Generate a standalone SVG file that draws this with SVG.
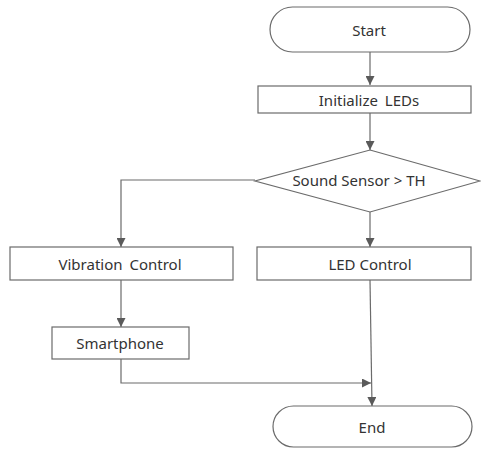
<svg xmlns="http://www.w3.org/2000/svg" width="481" height="449" viewBox="0 0 481 449">
  <style>
    .shape { fill: #ffffff; stroke: #6b6b6b; stroke-width: 1.2; }
    .label { font-family: "Noto Sans", "Open Sans", sans-serif; font-size: 15px; fill: #333333; text-anchor: middle; dominant-baseline: central; }
    .wide { word-spacing: 3px; }
    .wire { fill: none; stroke: #6b6b6b; stroke-width: 1.2; }
  </style>
  <defs>
    <marker id="arrow" viewBox="0 0 10 10" refX="10" refY="5" markerWidth="9" markerHeight="9" markerUnits="userSpaceOnUse" orient="auto">
      <path d="M0,0 L10,5 L0,10 Z" fill="#5a5a5a"/>
    </marker>
  </defs>
  <rect width="481" height="449" fill="#ffffff"/>

  <g id="connectors">
    <path class="wire" d="M370,52 V85" marker-end="url(#arrow)"/>
    <path class="wire" d="M370,113 V150" marker-end="url(#arrow)"/>
    <path class="wire" d="M370,212 V247" marker-end="url(#arrow)"/>
    <path class="wire" d="M255,180 H121 V247" marker-end="url(#arrow)"/>
    <path class="wire" d="M121,280 V327" marker-end="url(#arrow)"/>
    <path class="wire" d="M121,359 V383 H371" marker-end="url(#arrow)"/>
    <path class="wire" d="M370,280 L372,406" marker-end="url(#arrow)"/>
  </g>

  <g id="start">
    <rect class="shape" x="270" y="7" width="200" height="45" rx="22.5" ry="22.5"/>
    <text class="label" x="369" y="30">Start</text>
  </g>

  <g id="init-leds">
    <rect class="shape" x="258" y="86" width="213" height="27"/>
    <text class="label wide" x="369" y="100">Initialize LEDs</text>
  </g>

  <g id="sound-check">
    <polygon class="shape" points="370,150 480,181 370,212 255,181"/>
    <text class="label" x="359" y="180">Sound Sensor &gt; TH</text>
  </g>

  <g id="vibration-control">
    <rect class="shape" x="10" y="247" width="223" height="33"/>
    <text class="label wide" x="120" y="264">Vibration Control</text>
  </g>

  <g id="led-control">
    <rect class="shape" x="257" y="247" width="214" height="33"/>
    <text class="label" x="370" y="264">LED Control</text>
  </g>

  <g id="smartphone">
    <rect class="shape" x="52" y="327" width="137" height="32"/>
    <text class="label" x="120" y="343">Smartphone</text>
  </g>

  <g id="end">
    <rect class="shape" x="273" y="406" width="199" height="41" rx="20.5" ry="20.5"/>
    <text class="label" x="372" y="427">End</text>
  </g>
</svg>
